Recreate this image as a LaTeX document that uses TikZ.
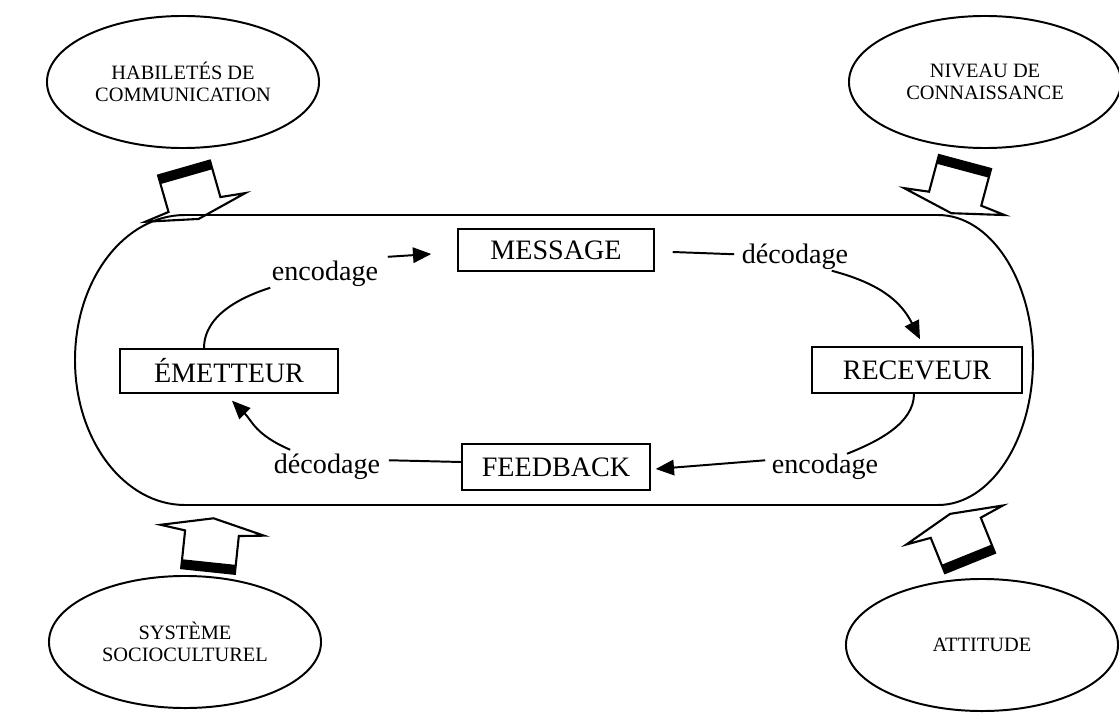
\documentclass[tikz,border=0pt]{standalone}
\usepackage{fontspec}
\setmainfont{Liberation Serif}
\usetikzlibrary{arrows.meta,calc,shapes.geometric}

\begin{document}
\begin{tikzpicture}[x=0.025cm, y=-0.025cm,
  box/.style={rectangle, draw, line width=1pt, minimum height=1.1cm, inner sep=2pt, font=\fontsize{20}{24}\selectfont},
  ell/.style={ellipse, draw, line width=1.4pt, minimum width=6.8cm, minimum height=3.3cm, align=center, font=\fontsize{14.5}{15.5}\selectfont},
  lbl/.style={inner sep=1pt, anchor=base, font=\fontsize{20}{24}\selectfont},
  conn/.style={line width=1.4pt},
  arr/.style={conn, -{Triangle[length=13pt,width=11pt]}},
  blk/.style={line width=1.5pt, fill=white, line join=miter}
]
  \useasboundingbox (0,0) rectangle (1119,716);

  % outer factors
  \node[ell] (hab) at (183,82)  {HABILETÉS DE\\COMMUNICATION};
  \node[ell] (niv) at (985,82)  {NIVEAU DE\\CONNAISSANCE};
  \node[ell] (soc) at (185,642) {SYSTÈME\\SOCIOCULTUREL};
  \node[ell] (att) at (982,645) {ATTITUDE};

  % hollow block arrows
  \foreach \bx/\by/\rot in {184/168/16, 965/162/-15, 208/571/174, 970/563/202} {
    \begin{scope}[shift={(\bx,\by)}, rotate=\rot]
      \draw[blk] (-27,0) -- (27,0) -- (27,38) -- (52,41) -- (0,53) -- (-52,41) -- (-27,38) -- cycle;
      \fill (-27,0) rectangle (27,9);
    \end{scope}
  }

  % ring
  \draw[line width=1.4pt] (185,215) -- (938,215)
    arc[start angle=-90, end angle=90, x radius=95, y radius=145] -- (185,505)
    arc[start angle=90, end angle=270, x radius=110, y radius=145] -- cycle;

  % boxes
  \node[box, minimum width=4.9cm, minimum height=1.05cm] (msg) at (556,250) {MESSAGE};
  \node[box, minimum width=5.45cm] (emet) at (229,371) {ÉMETTEUR};
  \node[box, minimum width=5.25cm, minimum height=1.15cm] (recv) at (917,370) {RECEVEUR};
  \node[box, minimum width=4.7cm, minimum height=1.15cm] (feed) at (556,467) {FEEDBACK};

  % labels
  \node[lbl] (enc1) at (325,280) {encodage};
  \node[lbl] (dec1) at (795,263) {décodage};
  \node[lbl] (dec2) at (327,473) {décodage};
  \node[lbl] (enc2) at (825,473) {encodage};

  % loop
  \draw[conn] ($(emet.north)+(-25,0)$) .. controls +(0,-35) and +(-25,8) .. (enc1.south west);
  \draw[arr] ($(enc1.north east)+(8,-2)$) -- ($(msg.west)+(-26,4)$);
  \draw[conn] ($(msg.east)+(18,2)$) -- ($(dec1.west)+(-6,-2)$);
  \draw[arr] ($(dec1.south east)+(-18,0)$) .. controls +(45,12) and +(-20,-40) .. ($(recv.north)+(3,-7)$);
  \draw[conn] ($(recv.south)+(-3,0)$) .. controls +(0,30) and +(30,-12) .. ($(enc2.north)+(22,2)$);
  \draw[arr] ($(enc2.west)+(-5,-6)$) -- ($(feed.east)+(5,2)$);
  \draw[conn] ($(feed.west)+(0,-5)$) -- ($(dec2.east)+(7,-6)$);
  \draw[arr] ($(dec2.north west)+(18,-2)$) .. controls +(-35,-15) and +(20,20) .. ($(emet.south)+(3,7)$);
\end{tikzpicture}
\end{document}
